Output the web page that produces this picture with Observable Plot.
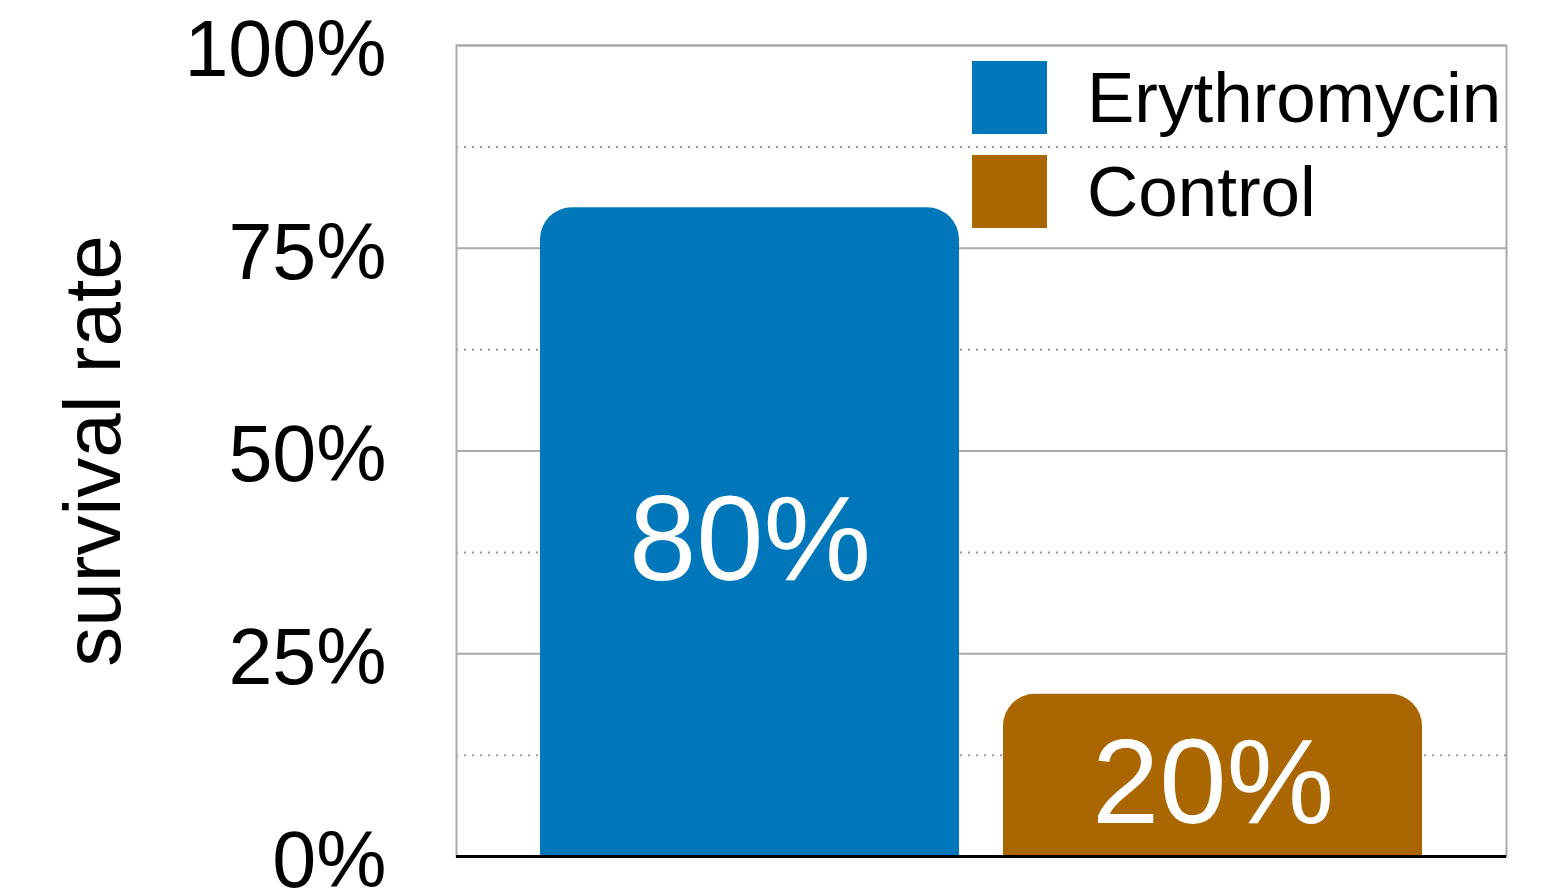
<!DOCTYPE html>
<html>
<head>
<meta charset="utf-8">
<script src="https://cdn.jsdelivr.net/npm/d3@7"></script>
<script src="https://cdn.jsdelivr.net/npm/@observablehq/plot@0.6"></script>
<style>
  html, body { margin: 0; padding: 0; background: #fff; }
  #wrap { position: relative; width: 1553px; height: 891px; font-family: "Liberation Sans", Arial, sans-serif; }
  #legend { position: absolute; left: 972px; top: 60px; }
  .row { display: flex; align-items: center; height: 75px; margin-bottom: 19px; }
  .sw { width: 75px; height: 73px; margin-right: 40px; }
  .lab { font-size: 71px; color: #000; line-height: 1; }
</style>
</head>
<body>
<div id="wrap"></div>
<script>
const categories = ["Erythromycin", "Control"];
const values = [80, 20];
const colors = ["#0077bb", "#aa6600"];
const yTicks = [0, 25, 50, 75, 100];
const majorGrid = [25, 50, 75, 100];
const minorGrid = [12.5, 37.5, 62.5, 87.5];
const yLabel = "survival rate";

const data = categories.map((c, i) => ({cat: c, v: values[i]}));
const fmt = d => d + "%";

const chart = Plot.plot({
  width: 1553,
  height: 891,
  marginTop: 45,
  marginBottom: 35,
  marginLeft: 456,
  marginRight: 47,
  style: {fontFamily: "'Liberation Sans', Arial, sans-serif", background: "#fff", color: "#000"},
  x: {domain: categories, paddingInner: 0.095, paddingOuter: 0.18, axis: null},
  y: {domain: [0, 100], axis: null},
  color: {domain: categories, range: colors},
  marks: [
    Plot.ruleY(minorGrid, {stroke: "#999", strokeWidth: 2, strokeDasharray: "2,6"}),
    Plot.ruleY(majorGrid, {stroke: "#aaa", strokeWidth: 2}),
    Plot.frame({stroke: "#aaa", strokeWidth: 2}),
    Plot.barY(data, {x: "cat", y: "v", fill: "cat", rx: 32}),
    Plot.barY(data, {x: "cat", y: d => d.v / 2, fill: "cat"}),
    Plot.ruleY([0], {stroke: "#000", strokeWidth: 3}),
    Plot.text(data, {x: "cat", y: d => d.v / 2, text: d => fmt(d.v), fill: "white", fontSize: 121, dy: 9}),
    Plot.axisY({ticks: yTicks, tickFormat: fmt, tickSize: 0, tickPadding: 70, fontSize: 79, dy: 5, label: null}),
    Plot.text([yLabel], {frameAnchor: "left", textAnchor: "middle", dx: -362, rotate: -90, fontSize: 80, fill: "#000"})
  ]
});

const wrap = document.getElementById("wrap");
wrap.appendChild(chart);

const legend = document.createElement("div");
legend.id = "legend";
categories.forEach((c, i) => {
  const row = document.createElement("div");
  row.className = "row";
  const sw = document.createElement("div");
  sw.className = "sw";
  sw.style.background = colors[i];
  const lab = document.createElement("span");
  lab.className = "lab";
  lab.textContent = c;
  row.appendChild(sw);
  row.appendChild(lab);
  legend.appendChild(row);
});
wrap.appendChild(legend);
</script>
</body>
</html>
